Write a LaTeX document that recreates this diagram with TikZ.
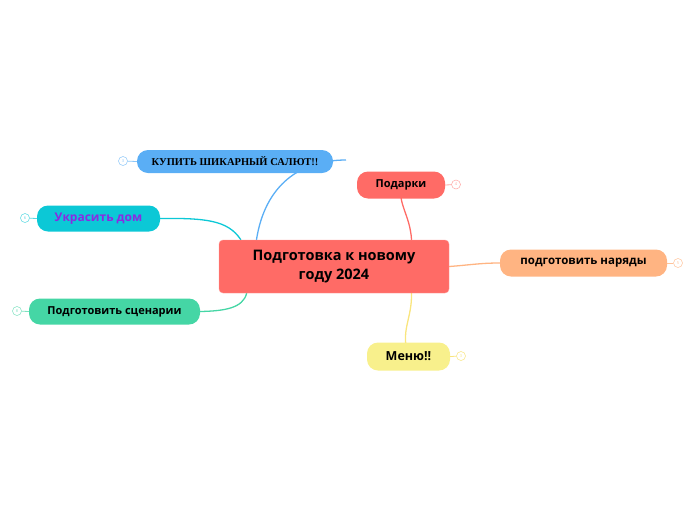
\documentclass[tikz,border=0pt]{standalone}
\usepackage{fontspec}
\setmainfont{Open Sans}
\newfontfamily\capsfont{Liberation Serif}
\usetikzlibrary{positioning,backgrounds}

\definecolor{rootred}{HTML}{FF6B66}
\definecolor{saluteblue}{HTML}{5AAEF5}
\definecolor{homecyan}{HTML}{0CC8D6}
\definecolor{homeviolet}{HTML}{8A2BE2}
\definecolor{scriptgreen}{HTML}{45D6A5}
\definecolor{outfitorange}{HTML}{FFB482}
\definecolor{menuyellow}{HTML}{F8F08C}

\tikzset{
  root/.style={rectangle, rounded corners=4pt, fill=rootred, draw=rootred!70, line width=0.4pt,
    minimum width=230pt, minimum height=53pt, inner sep=0pt, align=center,
    font=\bfseries\fontsize{14.5}{19.5}\selectfont},
  topic/.style={rectangle, rounded corners=11pt, inner sep=0pt, minimum height=26pt,
    font=\bfseries\fontsize{11}{13}\selectfont},
  knob/.style={circle, draw=#1, fill=white, line width=0.5pt, inner sep=0pt, minimum size=9pt,
    text=#1, font=\fontsize{4}{4}\selectfont},
  wire/.style={line width=1.3pt}
}

\begin{document}
\begin{tikzpicture}[x=1pt, y=-1pt]
        \useasboundingbox (0,0) rectangle (696,520);
        % NODES
        % -----------------
        \node[root] (root) at (334,266.5) {Подготовка к новому\\году 2024};
        
        \node[topic, fill=saluteblue, minimum width=196pt, minimum height=23pt,
              font=\capsfont\bfseries\fontsize{10.5}{12}\selectfont] (salute) at (235,161.5) {КУПИТЬ ШИКАРНЫЙ САЛЮТ!!};
        \node[topic, fill=homecyan, minimum width=123pt, text=homeviolet,
              font=\bfseries\fontsize{12}{14}\selectfont] (home) at (98.5,218.5) {Украсить дом};
        \node[topic, fill=scriptgreen, minimum width=171pt] (script) at (114.5,311.5) {Подготовить сценарии};
        
        \node[topic, fill=rootred, minimum width=88pt, minimum height=27pt] (gifts) at (401,185) {Подарки};
        \node[topic, fill=outfitorange, minimum width=167pt, minimum height=27pt,
              font=\bfseries\fontsize{11.5}{13}\selectfont] (outfit) at (583.5,263) {подготовить наряды};
        \node[topic, fill=menuyellow, minimum width=83pt, minimum height=28pt,
              font=\bfseries\fontsize{12.5}{14}\selectfont] (menu) at (408.5,356.5) {Меню!!};
        
        % collapse knobs
        \node[knob=saluteblue!70] (salute_knob) at (123,161) {3};
        \node[knob=homecyan!70] (home_knob) at (25,218) {6};
        \node[knob=scriptgreen!70] (script_knob) at (17,311) {8};
        \node[knob=rootred!60] (gifts_knob) at (456,184.5) {4};
        \node[knob=outfitorange!80] (outfit_knob) at (678,263) {5};
        \node[knob=menuyellow!90!orange] (menu_knob) at (461,356) {3};
        
        \coordinate (salute_tail) at (346,160);
        
        % EDGES
        % -----------------
        \begin{scope}[on background layer]
        \draw[wire, saluteblue] (root.161) .. controls (265,185) and (300,160) .. (salute_tail);
        \draw[wire, homecyan] (root.164) .. controls (228,220) and (205,218) .. (home.east);
        \draw[wire, scriptgreen] (root.197) .. controls (243,308) and (225,311) .. (script.east);
        \draw[wire, rootred] (root.19) .. controls (410,215) and (398,205) .. (gifts.center);
        \draw[wire, outfitorange] (root.east) .. controls (470,265) and (480,263) .. (outfit.west);
        \draw[wire, menuyellow!90!orange] (root.-19) .. controls (412,320) and (400,330) .. (menu.center);
        
        \draw[line width=0.8pt, saluteblue!70] (salute_knob) -- (salute.west);
        \draw[line width=0.8pt, homecyan!70] (home_knob) -- (home.west);
        \draw[line width=0.8pt, scriptgreen!70] (script_knob) -- (script.west);
        \draw[line width=0.8pt, rootred!60] (gifts_knob) -- (gifts.east);
        \draw[line width=0.8pt, outfitorange!80] (outfit_knob) -- (outfit.east);
        \draw[line width=0.8pt, menuyellow!90!orange] (menu_knob) -- (menu.east);
        \end{scope}
\end{tikzpicture}
\end{document}
